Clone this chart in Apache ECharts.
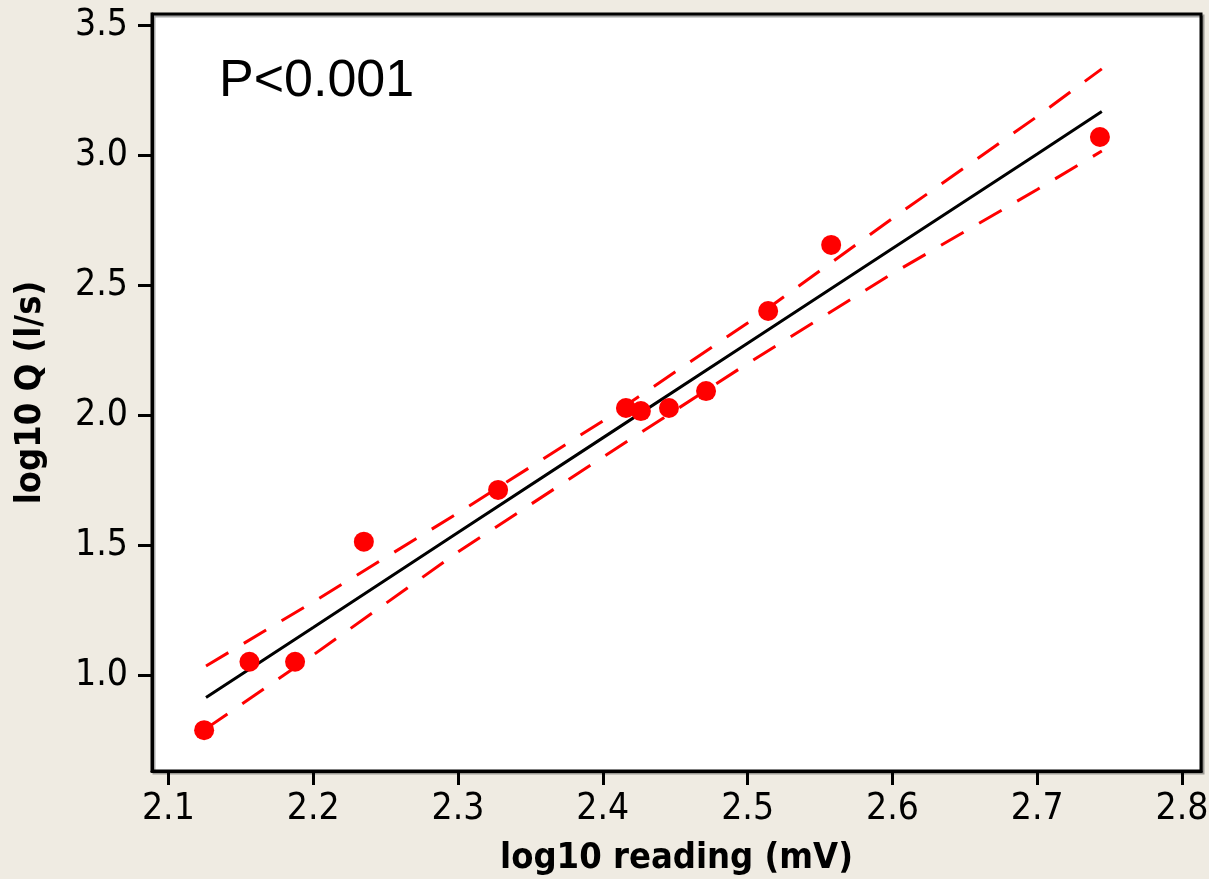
<!DOCTYPE html>
<html>
<head>
<meta charset="utf-8">
<title>log10 Q vs log10 reading</title>
<script src="https://cdn.jsdelivr.net/npm/echarts@6/dist/echarts.min.js"></script>
<style>
  html, body { margin: 0; padding: 0; background: #EFEBE2; }
  #chart { width: 1209px; height: 879px; }
</style>
</head>
<body>
<div id="chart"></div>
<script>
// Observations: log10 of meter reading (mV) and log10 of discharge Q (l/s)
const readingX = [2.1247, 2.156, 2.1875, 2.235, 2.3277, 2.416, 2.4263, 2.4457, 2.4713, 2.5142, 2.5577, 2.7433];
const flowY    = [0.788, 1.051, 1.051, 1.513, 1.712, 2.027, 2.015, 2.027, 2.092, 2.400, 2.654, 3.069];

// Fitted regression line and 95% confidence limits, sampled along x
const lineX  = [2.126, 2.2, 2.3, 2.4, 2.5, 2.6, 2.7, 2.7446];
const fitY   = [0.914, 1.183, 1.548, 1.912, 2.276, 2.640, 3.004, 3.167];
const upperY = [1.035, 1.281, 1.623, 1.977, 2.354, 2.756, 3.148, 3.331];
const lowerY = [0.794, 1.077, 1.473, 1.838, 2.198, 2.544, 2.867, 3.015];

// Axis tick values
const xTicks = [2.1, 2.2, 2.3, 2.4, 2.5, 2.6, 2.7, 2.8];
const yTicks = [1.0, 1.5, 2.0, 2.5, 3.0, 3.5];

const pValueText = 'P<0.001';

const pair = (xs, ys) => xs.map((x, i) => [x, ys[i]]);

const tickFont = {
  fontFamily: '"DejaVu Sans Condensed", "DejaVu Sans", sans-serif',
  fontSize: 37,
  color: '#000'
};
const titleFont = {
  fontFamily: '"DejaVu Sans Condensed", "DejaVu Sans", sans-serif',
  fontSize: 36,
  fontWeight: 'bold',
  color: '#000'
};

const chart = echarts.init(document.getElementById('chart'), null, { renderer: 'canvas' });

chart.setOption({
  backgroundColor: '#EFEBE2',
  animation: false,
  grid: {
    show: true,
    left: 152, top: 14, right: 8, bottom: 108,
    containLabel: false,
    outerBoundsMode: 'none',
    backgroundColor: '#ffffff',
    borderColor: '#000',
    borderWidth: 3,
    shadowColor: 'rgba(0,0,0,0.35)',
    shadowOffsetX: 2,
    shadowOffsetY: 2,
    shadowBlur: 0
  },
  xAxis: {
    type: 'value',
    min: 2.0887,
    max: 2.8131,
    name: 'log10 reading (mV)',
    nameLocation: 'middle',
    nameGap: 70,
    nameTextStyle: titleFont,
    axisLine: { show: true, onZero: false, lineStyle: { color: '#000', width: 3 } },
    axisTick: { show: true, inside: false, length: 14, lineStyle: { color: '#000', width: 3 }, customValues: xTicks },
    axisLabel: { show: true, margin: 20, customValues: xTicks, formatter: v => v.toFixed(1), ...tickFont },
    splitLine: { show: false }
  },
  yAxis: {
    type: 'value',
    min: 0.631,
    max: 3.542,
    name: 'log10 Q (l/s)',
    nameLocation: 'middle',
    nameGap: 103,
    nameRotate: 90,
    nameTextStyle: titleFont,
    axisLine: { show: true, onZero: false, lineStyle: { color: '#000', width: 3 } },
    axisTick: { show: true, inside: false, length: 14, lineStyle: { color: '#000', width: 3 }, customValues: yTicks },
    axisLabel: { show: true, margin: 24, customValues: yTicks, formatter: v => v.toFixed(1), ...tickFont },
    splitLine: { show: false }
  },
  graphic: [{
    type: 'text',
    left: 219,
    top: 56,
    style: {
      text: pValueText,
      fontFamily: '"Liberation Sans", Arial, sans-serif',
      fontSize: 52,
      fill: '#000'
    },
    z: 100
  }],
  series: [
    {
      name: 'Upper 95% CI',
      type: 'line',
      data: pair(lineX, upperY),
      showSymbol: false,
      smooth: false,
      lineStyle: { color: '#FF0000', width: 3, type: [26, 18] },
      z: 2
    },
    {
      name: 'Lower 95% CI',
      type: 'line',
      data: pair(lineX, lowerY),
      showSymbol: false,
      smooth: false,
      lineStyle: { color: '#FF0000', width: 3, type: [26, 18] },
      z: 2
    },
    {
      name: 'Fit',
      type: 'line',
      data: pair(lineX, fitY),
      showSymbol: false,
      smooth: false,
      lineStyle: { color: '#000', width: 3 },
      z: 3
    },
    {
      name: 'Observed',
      type: 'scatter',
      data: pair(readingX, flowY),
      symbol: 'circle',
      symbolSize: 20,
      itemStyle: { color: '#FF0000', opacity: 1 },
      z: 5
    }
  ]
});
</script>
</body>
</html>
